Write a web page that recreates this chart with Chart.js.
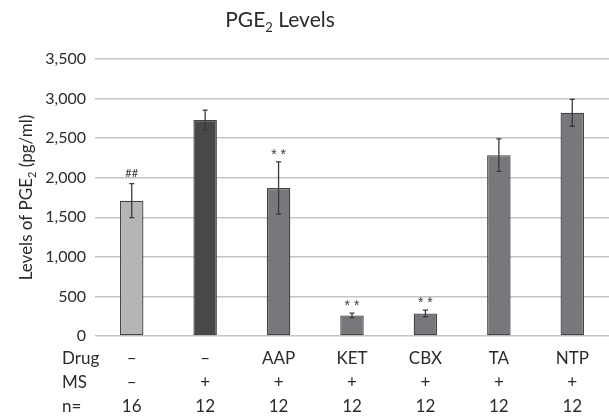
<!DOCTYPE html>
<html>
<head>
<meta charset="utf-8">
<script src="https://cdn.jsdelivr.net/npm/chart.js@4.4.1/dist/chart.umd.min.js"></script>
<style>
  html, body { margin: 0; padding: 0; background: #fff; }
  #wrap { width: 609px; height: 416px; }
</style>
</head>
<body>
<div id="wrap"><canvas id="pgeChart" width="609" height="416"></canvas></div>
<script>
// data
const drugs = ['–', '–', 'AAP', 'KET', 'CBX', 'TA', 'NTP'];
const msFlags = ['–', '+', '+', '+', '+', '+', '+'];
const nCounts = ['16', '12', '12', '12', '12', '12', '12'];
const pgeMeans = [1710, 2730, 1870, 260, 285, 2285, 2820];
const pgeErrors = [215, 125, 330, 30, 42, 205, 170];
const marks = ['##', '', '**', '**', '**', '', ''];
const rowHeads = ['Drug', 'MS', 'n='];
const yTicks = [0, 500, 1000, 1500, 2000, 2500, 3000, 3500];

const barFills = ['#b4b5b7', '#47484a', '#77787b', '#77787b', '#77787b', '#77787b', '#77787b'];
const FONT = "Lato, 'Open Sans', sans-serif";
const TXT = '#2b2b2b';

// row centres of the little table below the axis, measured from the x axis line
const ROW_OFFSETS = [23, 47, 71];

// error bars + significance marks
const errorBarPlugin = {
    id: 'errorBars',
    afterDatasetsDraw(chart) {
        const { ctx } = chart;
        const y = chart.scales.y;
        const meta = chart.getDatasetMeta(0);
        ctx.save();
        ctx.strokeStyle = '#3a3a3a';
        ctx.lineWidth = 1.3;
        meta.data.forEach((bar, i) => {
            const top = y.getPixelForValue(pgeMeans[i] + pgeErrors[i]);
            const bot = y.getPixelForValue(pgeMeans[i] - pgeErrors[i]);
            const x = bar.x;
            ctx.beginPath();
            ctx.moveTo(x, top); ctx.lineTo(x, bot);
            ctx.moveTo(x - 2.5, top); ctx.lineTo(x + 2.5, top);
            ctx.moveTo(x - 2.5, bot); ctx.lineTo(x + 2.5, bot);
            ctx.stroke();
            if (marks[i]) {
                ctx.fillStyle = '#3a3a3a';
                ctx.textAlign = 'center';
                ctx.textBaseline = 'middle';
                if (marks[i] === '##') {
                    ctx.font = '11px ' + FONT;
                    ctx.fillText(marks[i], x, top - 10);
                } else {
                    ctx.font = "14px 'Liberation Sans', sans-serif";
                    ctx.fillText('* *', x, top - 7);
                }
            }
        });
        ctx.restore();
    }
};

// text with a subscript "2" after the given prefix
function drawSubText(ctx, before, sub, after, size, x, y) {
    ctx.font = size + 'px ' + FONT;
    const w1 = ctx.measureText(before).width;
    const w3 = ctx.measureText(after).width;
    ctx.font = Math.round(size * 0.62) + 'px ' + FONT;
    const w2 = ctx.measureText(sub).width;
    const x0 = x - (w1 + w2 + w3) / 2;
    ctx.textAlign = 'left';
    ctx.textBaseline = 'alphabetic';
    ctx.font = size + 'px ' + FONT;
    ctx.fillText(before, x0, y);
    ctx.font = Math.round(size * 0.62) + 'px ' + FONT;
    ctx.fillText(sub, x0 + w1, y + size * 0.22);
    ctx.font = size + 'px ' + FONT;
    ctx.fillText(after, x0 + w1 + w2, y);
}

const labelsPlugin = {
    id: 'labelsPlugin',
    afterDraw(chart) {
        const { ctx, chartArea } = chart;
        const xs = chart.scales.x;
        ctx.save();
        ctx.fillStyle = TXT;
        // title
        drawSubText(ctx, 'PGE', '2', ' Levels', 21, 280, 27);
        // y axis title
        ctx.save();
        ctx.translate(32, (chartArea.top + chartArea.bottom) / 2);
        ctx.rotate(-Math.PI / 2);
        drawSubText(ctx, 'Levels of PGE', '2', ' (pg/ml)', 17, 0, 0);
        ctx.restore();
        // table below the axis: row heads + one column per bar
        ctx.font = '17px ' + FONT;
        ctx.textBaseline = 'middle';
        const rows = [drugs, msFlags, nCounts];
        rows.forEach((row, k) => {
            const yy = chartArea.bottom + ROW_OFFSETS[k];
            ctx.textAlign = 'left';
            ctx.fillText(rowHeads[k], 62, yy);
            ctx.textAlign = 'center';
            row.forEach((txt, i) => ctx.fillText(txt, xs.getPixelForTick(i), yy));
        });
        ctx.restore();
    }
};

const ctx = document.getElementById('pgeChart');
new Chart(ctx, {
    type: 'bar',
    data: {
        labels: drugs,
        datasets: [{
            data: pgeMeans,
            backgroundColor: barFills,
            borderColor: '#454545',
            borderWidth: 1.3,
            borderSkipped: false,
            categoryPercentage: 1,
            barPercentage: 0.32
        }]
    },
    options: {
        responsive: false,
        animation: false,
        layout: { padding: { top: 59, right: -11, left: 0, bottom: 0 } },
        plugins: {
            legend: { display: false },
            tooltip: { enabled: false },
            title: { display: false }
        },
        scales: {
            x: {
                grid: { display: false },
                border: { display: false },
                ticks: { display: false },
                afterFit(scale) { scale.height = 80; }
            },
            y: {
                min: 0,
                max: 3500,
                afterBuildTicks(scale) { scale.ticks = yTicks.map(v => ({ value: v })); },
                grid: { color: '#c4c4c4', lineWidth: 1.5, drawTicks: false },
                border: { display: false },
                ticks: {
                    color: TXT,
                    padding: 9,
                    font: { family: FONT, size: 16 },
                    callback: (v) => v.toLocaleString('en-US')
                },
                afterFit(scale) { scale.width = 95; }
            }
        }
    },
    plugins: [errorBarPlugin, labelsPlugin]
});
</script>
</body>
</html>
